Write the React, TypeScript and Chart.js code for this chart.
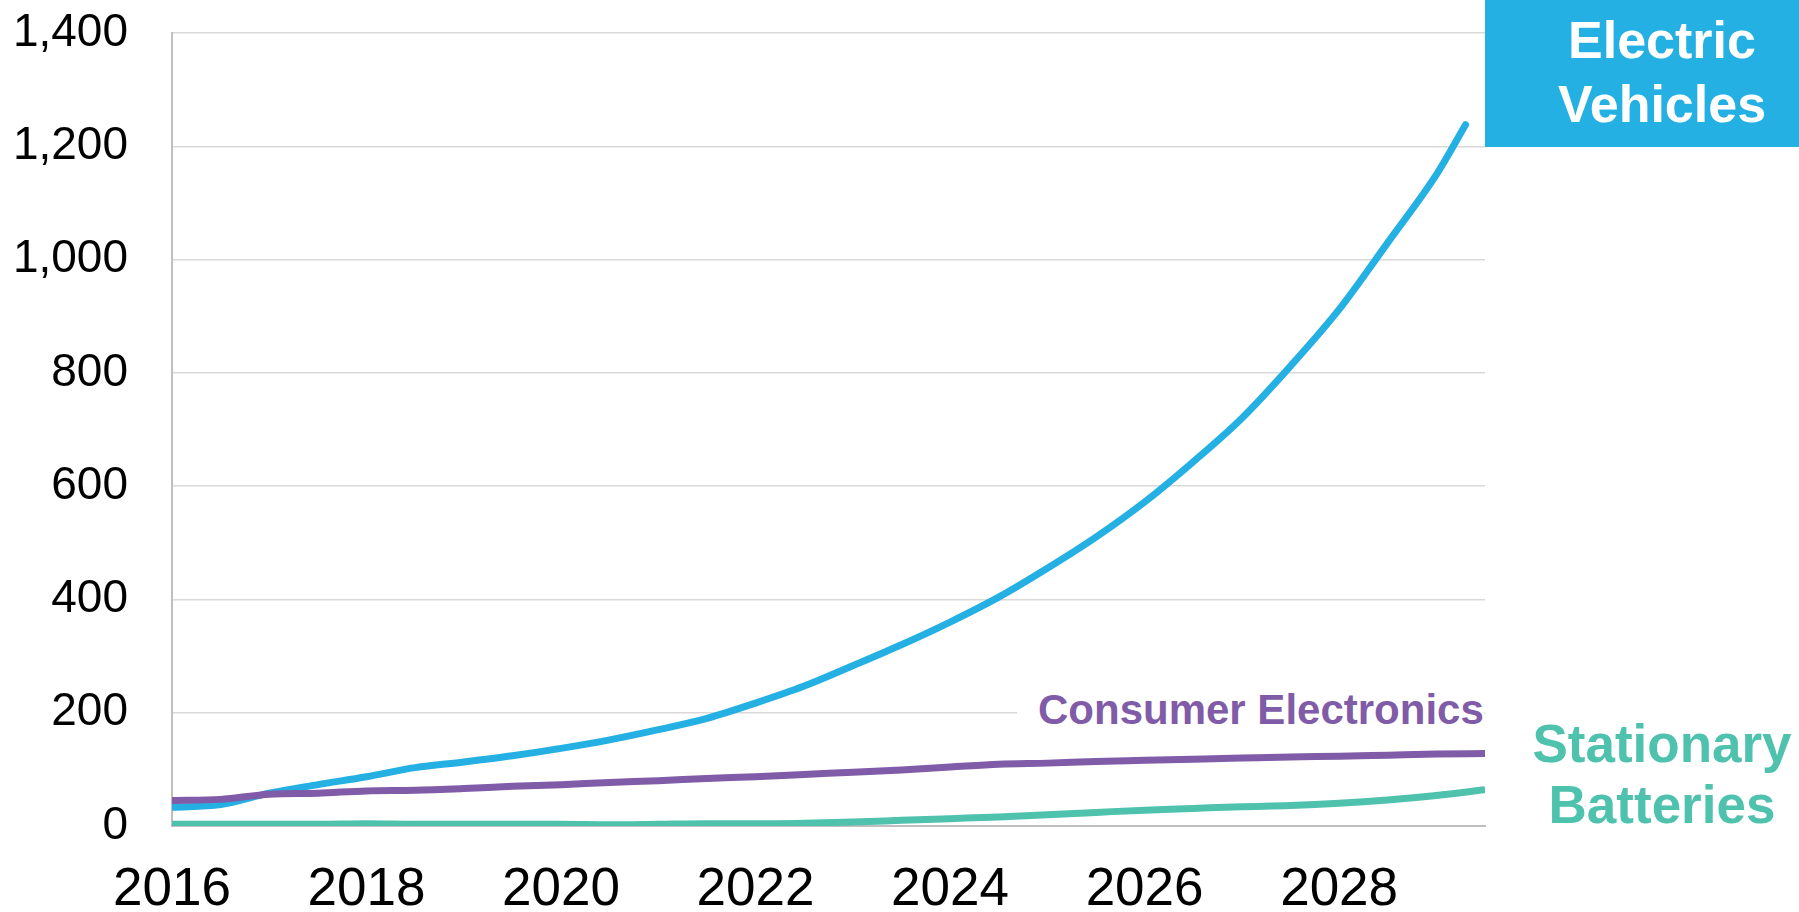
import React, { useEffect, useRef } from "react";
import { Chart, registerables } from "chart.js";

Chart.register(...registerables);

// ---- Data ----
const yearsEV = [
  2016, 2016.5, 2017, 2017.5, 2018, 2018.5, 2019, 2019.5, 2020, 2020.5,
  2021, 2021.5, 2022, 2022.5, 2023, 2023.5, 2024, 2024.5, 2025, 2025.5,
  2026, 2026.5, 2027, 2027.5, 2028, 2028.5, 2029, 2029.3,
];
const electricVehicles = [
  33, 38, 58, 73, 87, 103, 113, 124, 137, 152,
  170, 190, 217, 247, 283, 320, 360, 404, 455, 510,
  572, 643, 720, 812, 912, 1030, 1150, 1238,
];

const years = [
  2016, 2016.5, 2017, 2017.5, 2018, 2018.5, 2019, 2019.5, 2020, 2020.5,
  2021, 2021.5, 2022, 2022.5, 2023, 2023.5, 2024, 2024.5, 2025, 2025.5,
  2026, 2026.5, 2027, 2027.5, 2028, 2028.5, 2029, 2029.5,
];
const consumerElectronics = [
  45, 47, 56, 58, 62, 63, 66, 70, 73, 77,
  80, 84, 87, 91, 95, 99, 104, 109, 111, 114,
  116, 118, 120, 122, 123, 125, 127, 128,
];
const stationaryBatteries = [
  3, 3, 3, 3, 4, 3, 3, 3, 3, 2,
  3, 4, 4, 5, 7, 10, 13, 16, 20, 24,
  28, 31, 34, 36, 40, 46, 54, 64,
];

const xTickYears = [2016, 2018, 2020, 2022, 2024, 2026, 2028];
const xMin = 2016;
const xMax = 2029.5;
const yMin = 0;
const yMax = 1400;
const yStep = 200;

const seriesNames = ["Electric Vehicles", "Consumer Electronics", "Stationary Batteries"];
const seriesColors = ["#25B0E4", "#805BA8", "#4FC2AE"];

const FONT = '"Liberation Sans", Arial, Helvetica, sans-serif';

export default function App() {
  const canvasRef = useRef<HTMLCanvasElement | null>(null);

  useEffect(() => {
    const canvas = canvasRef.current;
    if (!canvas) return;
    const toPts = (xs: number[], ys: number[]) => xs.map((x, i) => ({ x, y: ys[i] }));

    const chart = new Chart(canvas, {
      type: "line",
      data: {
        datasets: [
          {
            label: seriesNames[2],
            data: toPts(years, stationaryBatteries),
            borderColor: seriesColors[2],
            borderWidth: 7,
            pointRadius: 0,
            cubicInterpolationMode: "monotone",
            borderCapStyle: "butt",
            borderJoinStyle: "round",
          },
          {
            label: seriesNames[1],
            data: toPts(years, consumerElectronics),
            borderColor: seriesColors[1],
            borderWidth: 7,
            pointRadius: 0,
            cubicInterpolationMode: "monotone",
            borderCapStyle: "butt",
            borderJoinStyle: "round",
          },
          {
            label: seriesNames[0],
            data: toPts(yearsEV, electricVehicles),
            borderColor: seriesColors[0],
            borderWidth: 7,
            pointRadius: 0,
            cubicInterpolationMode: "monotone",
            borderCapStyle: "round",
            borderJoinStyle: "round",
          },
        ],
      },
      options: {
        animation: false,
        responsive: false,
        layout: { padding: { top: 33, right: 314, bottom: 0, left: 0 } },
        plugins: {
          legend: { display: false },
          tooltip: { enabled: false },
        },
        scales: {
          x: {
            type: "linear",
            min: xMin,
            max: xMax,
            grid: { display: false, drawTicks: false },
            border: { display: true, color: "#BFBFBF", width: 2 },
            afterBuildTicks: (scale: any) => {
              scale.ticks = xTickYears.map((v) => ({ value: v }));
            },
            afterFit: (scale: any) => {
              scale.height = 86;
              scale.paddingLeft = 0;
              scale.paddingRight = 0;
            },
            ticks: {
              color: "#000000",
              padding: 33,
              maxRotation: 0,
              autoSkip: false,
              font: { family: FONT, size: 53 },
              callback: (v: any) => String(v),
            },
          },
          y: {
            type: "linear",
            min: yMin,
            max: yMax,
            grid: { color: "#D9D9D9", lineWidth: 1.5, drawTicks: false },
            border: { display: true, color: "#BFBFBF", width: 2 },
            afterFit: (scale: any) => {
              scale.width = 172;
              scale.paddingTop = 0;
              scale.paddingBottom = 0;
            },
            ticks: {
              stepSize: yStep,
              color: "#000000",
              padding: 44,
              font: { family: FONT, size: 46 },
              callback: (v: any) => Number(v).toLocaleString("en-US"),
            },
          },
        },
      },
    } as any);

    return () => chart.destroy();
  }, []);

  return (
    <div
      style={{
        position: "fixed",
        left: 0,
        top: 0,
        width: 1799,
        height: 912,
        background: "#ffffff",
        overflow: "hidden",
        fontFamily: FONT,
      }}
    >
      <canvas ref={canvasRef} width={1799} height={912} style={{ display: "block" }} />
      <div
        style={{
          position: "absolute",
          left: 1485,
          top: 0,
          width: 314,
          height: 147,
          background: seriesColors[0],
          boxSizing: "border-box",
          paddingTop: 8,
          paddingLeft: 40,
          color: "#ffffff",
          fontWeight: "bold",
          fontSize: 52,
          lineHeight: "64px",
          textAlign: "center",
        }}
      >
        Electric
        <br />
        Vehicles
      </div>
      <div
        style={{
          position: "absolute",
          left: 1017,
          top: 685,
          paddingLeft: 21,
          background: "#ffffff",
          color: seriesColors[1],
          fontWeight: "bold",
          fontSize: 42,
          lineHeight: "50px",
          whiteSpace: "nowrap",
        }}
      >
        Consumer Electronics
      </div>
      <div
        style={{
          position: "absolute",
          left: 1512,
          top: 713,
          width: 300,
          color: seriesColors[2],
          fontWeight: "bold",
          fontSize: 53,
          lineHeight: "61px",
          textAlign: "center",
          whiteSpace: "nowrap",
        }}
      >
        Stationary
        <br />
        Batteries
      </div>
    </div>
  );
}
